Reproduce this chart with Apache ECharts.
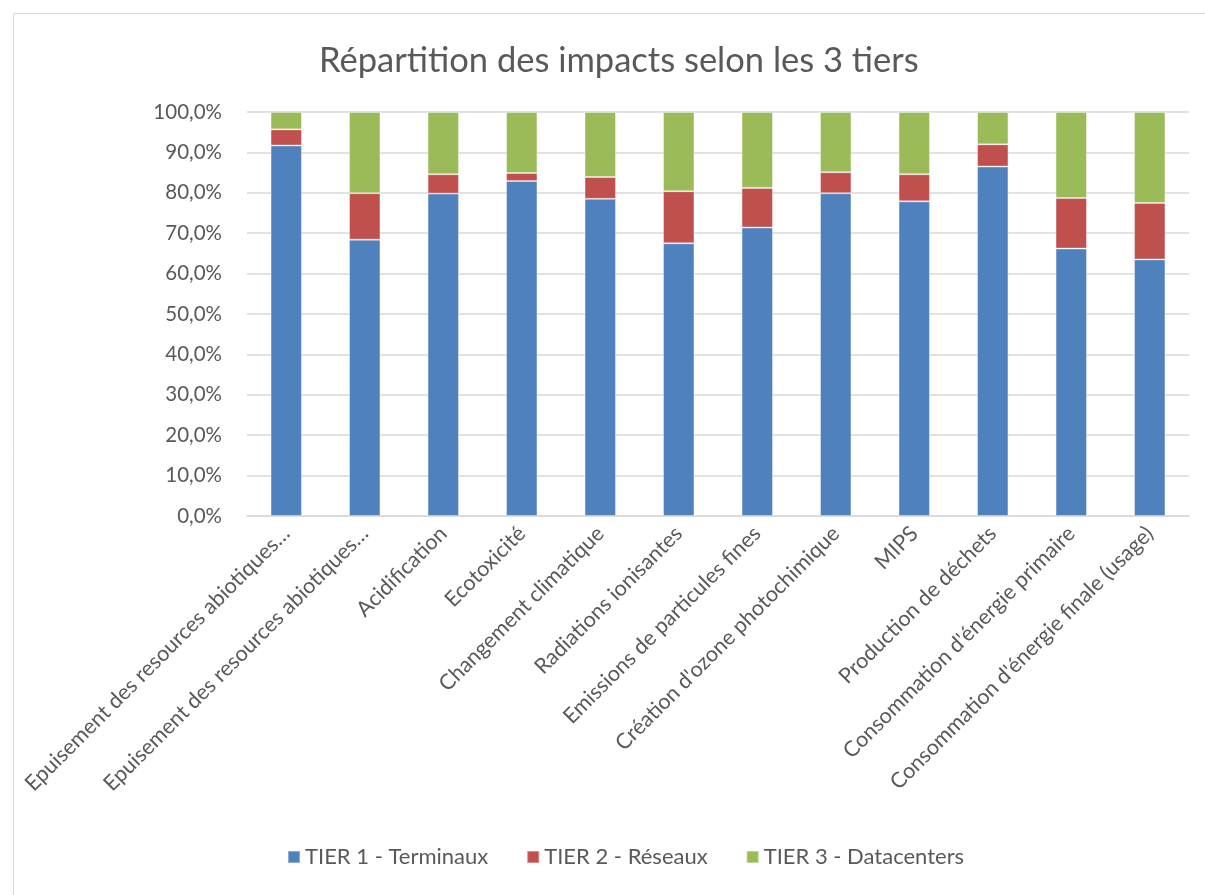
<!DOCTYPE html>
<html>
<head>
<meta charset="utf-8">
<script src="https://cdn.jsdelivr.net/npm/echarts@6/dist/echarts.min.js"></script>
<style>
  html, body { margin: 0; padding: 0; background: #fff; }
  #chart { width: 1205px; height: 895px; }
</style>
</head>
<body>
<div id="chart"></div>
<script>
var categories = [
  'Epuisement des resources abiotiques…',
  'Epuisement des resources abiotiques…',
  'Acidification',
  'Ecotoxicité',
  'Changement climatique',
  'Radiations ionisantes',
  'Emissions de particules fines',
  "Création d'ozone photochimique",
  'MIPS',
  'Production de déchets',
  "Consommation d'énergie primaire",
  "Consommation d'énergie finale (usage)"
];
var tier1 = [91.7, 68.4, 79.8, 82.9, 78.5, 67.5, 71.4, 79.9, 77.9, 86.5, 66.2, 63.5];
var tier2 = [4.0, 11.5, 4.8, 2.0, 5.4, 12.9, 9.8, 5.2, 6.7, 5.5, 12.5, 14.0];
var tier3 = [4.3, 20.1, 15.4, 15.1, 16.1, 19.6, 18.8, 14.9, 15.4, 8.0, 21.3, 22.5];
var seriesNames = ['TIER 1 - Terminaux', 'TIER 2 - Réseaux', 'TIER 3 - Datacenters'];

var font = 'Lato, "Open Sans", sans-serif';
var textColor = '#595959';

function bar(name, data) {
  return {
    name: name,
    type: 'bar',
    stack: 'total',
    barWidth: '40%',
    data: data,
    itemStyle: { borderColor: 'rgba(255,255,255,0.35)', borderWidth: 1 }
  };
}

var option = {
  animation: false,
  color: ['#4F81BD', '#C0504D', '#9BBB59'],
  title: {
    text: 'Répartition des impacts selon les 3 tiers',
    left: 314,
    top: 38,
    textStyle: { fontFamily: font, fontSize: 34.5, fontWeight: 'normal', color: textColor }
  },
  graphic: [{
    type: 'rect',
    shape: { x: 13.5, y: 13.5, width: 1200, height: 900 },
    style: { fill: 'none', stroke: '#d9d9d9', lineWidth: 1 },
    silent: true
  }],
  legend: {
    bottom: 22,
    left: 282,
    itemWidth: 12,
    itemHeight: 12,
    itemGap: 38,
    icon: 'rect',
    textStyle: { fontFamily: font, fontSize: 22, color: textColor }
  },
  grid: { left: 247, right: 16, top: 112, bottom: 379 },
  xAxis: {
    type: 'category',
    data: categories,
    axisLine: { lineStyle: { color: '#d9d9d9', width: 1.5 } },
    axisTick: { show: false },
    axisLabel: {
      interval: 0,
      rotate: 45,
      margin: 14,
      fontFamily: font,
      fontSize: 21.5,
      color: textColor
    }
  },
  yAxis: {
    type: 'value',
    min: 0,
    max: 100,
    interval: 10,
    axisLine: { show: false },
    axisTick: { show: false },
    splitLine: { lineStyle: { color: '#d9d9d9', width: 1.5 } },
    axisLabel: {
      margin: 25,
      fontFamily: font,
      fontSize: 20.5,
      color: textColor,
      formatter: function (v) { return v.toFixed(1).replace('.', ',') + '%'; }
    }
  },
  series: [
    bar(seriesNames[0], tier1),
    bar(seriesNames[1], tier2),
    bar(seriesNames[2], tier3)
  ]
};

var chart = echarts.init(document.getElementById('chart'));
chart.setOption(option);
</script>
</body>
</html>
